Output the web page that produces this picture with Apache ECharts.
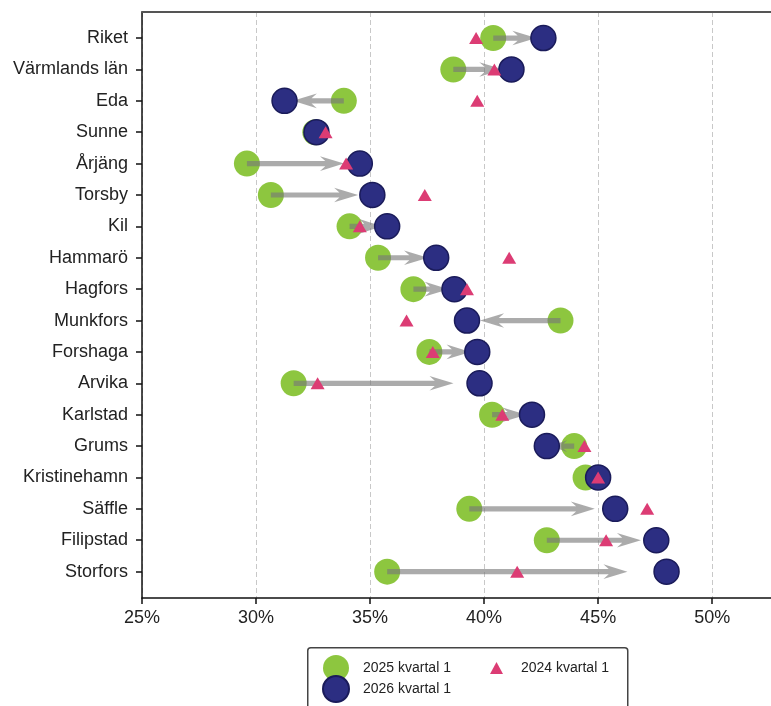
<!DOCTYPE html>
<html>
<head>
<meta charset="utf-8">
<script src="https://cdn.jsdelivr.net/npm/echarts@6/dist/echarts.min.js"></script>
<style>
html,body{margin:0;padding:0;background:#fff;}
#chart{width:771px;height:706px;}
</style>
</head>
<body>
<div id="chart"></div>
<script>
const categories = ['Riket', 'Värmlands län', 'Eda', 'Sunne', 'Årjäng', 'Torsby', 'Kil', 'Hammarö', 'Hagfors', 'Munkfors', 'Forshaga', 'Arvika', 'Karlstad', 'Grums', 'Kristinehamn', 'Säffle', 'Filipstad', 'Storfors'];
const q2025 = [40.4, 38.65, 33.85, 32.6, 29.6, 30.65, 34.1, 35.35, 36.9, 43.35, 37.6, 31.65, 40.35, 43.95, 44.45, 39.35, 42.75, 35.75];
const q2026 = [42.6, 41.2, 31.25, 32.65, 34.55, 35.1, 35.75, 37.9, 38.7, 39.25, 39.7, 39.8, 42.1, 42.75, 45.0, 45.75, 47.55, 48.0];
const q2024 = [39.65, 40.45, 39.7, 33.05, 33.95, 37.4, 34.55, 41.1, 39.25, 36.6, 37.75, 32.7, 40.8, 44.4, 45.0, 47.15, 45.35, 41.45];
const xTicks = [25, 30, 35, 40, 45, 50];

const FONT = '"Liberation Sans", Arial, Helvetica, sans-serif';
const chart = echarts.init(document.getElementById('chart'), null, {renderer: 'canvas'});

const idx = categories.map((c, i) => i);

function arrowItem(params, api) {
  const g = api.coord([api.value(0), api.value(2)]);
  const b = api.coord([api.value(1), api.value(2)]);
  const dx = b[0] - g[0];
  const y = g[1];
  const dir = dx < 0 ? -1 : 1;
  const len = Math.abs(dx) * 0.86;
  const fill = 'rgba(120,120,120,0.62)';
  if (len < 4) {
    return {type: 'circle', shape: {cx: g[0], cy: y, r: 2.3}, style: {fill: fill}};
  }
  const h = 2.6;
  const headLen = Math.min(24, len * 0.7);
  const headHalf = Math.min(7.3, headLen * 0.36);
  const tip = g[0] + dir * len;
  const back = tip - dir * headLen;
  const neck = tip - dir * headLen * 0.78;
  return {
    type: 'polygon',
    shape: {points: [
      [g[0], y - h], [neck, y - h], [back, y - headHalf], [tip, y],
      [back, y + headHalf], [neck, y + h], [g[0], y + h]
    ]},
    style: {fill: fill}
  };
}

const option = {
  animation: false,
  backgroundColor: '#fff',
  grid: {
    left: 142, right: 0, top: 12, bottom: 108, show: false
  },
  xAxis: [
    {
      type: 'value', min: 25, max: 52.58, interval: 5,
      axisLine: {show: true, onZero: false, lineStyle: {color: '#111', width: 1.5}},
      axisTick: {show: true, length: 6, lineStyle: {color: '#111', width: 1.5}, customValues: xTicks},
      axisLabel: {
        customValues: xTicks, margin: 11, fontSize: 18, color: '#222', fontFamily: FONT,
        formatter: v => v + '%'
      },
      splitLine: {show: true, lineStyle: {color: '#c8c8c8', type: [5, 3], width: 1}}
    },
    {
      type: 'value', position: 'top', min: 25, max: 52.58,
      axisLine: {show: true, onZero: false, lineStyle: {color: '#555', width: 1.8}},
      axisTick: {show: false}, axisLabel: {show: false}, splitLine: {show: false}
    }
  ],
  yAxis: {
    type: 'value', inverse: true, min: -0.83, max: 17.84,
    axisLine: {show: true, onZero: false, lineStyle: {color: '#111', width: 1.5}},
    axisTick: {show: true, length: 6, customValues: idx, lineStyle: {color: '#111', width: 1.5}},
    axisLabel: {
      customValues: idx, margin: 14, fontSize: 18, color: '#222', fontFamily: FONT,
      formatter: v => categories[Math.round(v)]
    },
    splitLine: {show: false}
  },
  legend: [
    {
      data: [{name: '2025 kvartal 1', icon: 'circle'}, {name: '2026 kvartal 1', icon: 'circle'}],
      orient: 'vertical', left: 322, top: 655, padding: 0, height: 60,
      itemWidth: 36, itemHeight: 26, itemGap: -6,
      textStyle: {fontSize: 14, color: '#222', fontFamily: FONT, padding: [0, 0, 0, 4]},
      selectedMode: false
    },
    {
      data: [{name: '2024 kvartal 1', icon: 'triangle'}],
      orient: 'vertical', left: 490, top: 661, padding: 0,
      itemWidth: 13, itemHeight: 12,
      textStyle: {fontSize: 14, color: '#222', fontFamily: FONT, padding: [0, 0, 0, 13]},
      selectedMode: false
    }
  ],
  graphic: [{
    type: 'rect', left: 307, top: 647, z: -1,
    shape: {width: 320, height: 80, r: 3},
    style: {fill: '#fff', stroke: '#444', lineWidth: 1.5}
  }],
  series: [
    {
      name: '2025 kvartal 1', type: 'scatter', z: 2,
      symbol: 'circle', symbolSize: 26,
      itemStyle: {color: '#8dc63f', opacity: 1},
      data: q2025.map((v, i) => [v, i])
    },
    {
      name: 'arrows', type: 'custom', z: 3,
      renderItem: arrowItem,
      data: q2025.map((v, i) => [v, q2026[i], i]),
      encode: {x: [0, 1], y: 2},
      silent: true
    },
    {
      name: '2026 kvartal 1', type: 'scatter', z: 4,
      symbol: 'circle', symbolSize: 25,
      itemStyle: {color: '#2c2e82', borderColor: '#1a1b5a', borderWidth: 1.5, opacity: 1},
      data: q2026.map((v, i) => [v, i])
    },
    {
      name: '2024 kvartal 1', type: 'scatter', z: 5,
      symbol: 'triangle', symbolSize: [14, 12],
      itemStyle: {color: '#dc3c74', opacity: 1},
      data: q2024.map((v, i) => [v, i])
    }
  ]
};
chart.setOption(option);
</script>
</body>
</html>
